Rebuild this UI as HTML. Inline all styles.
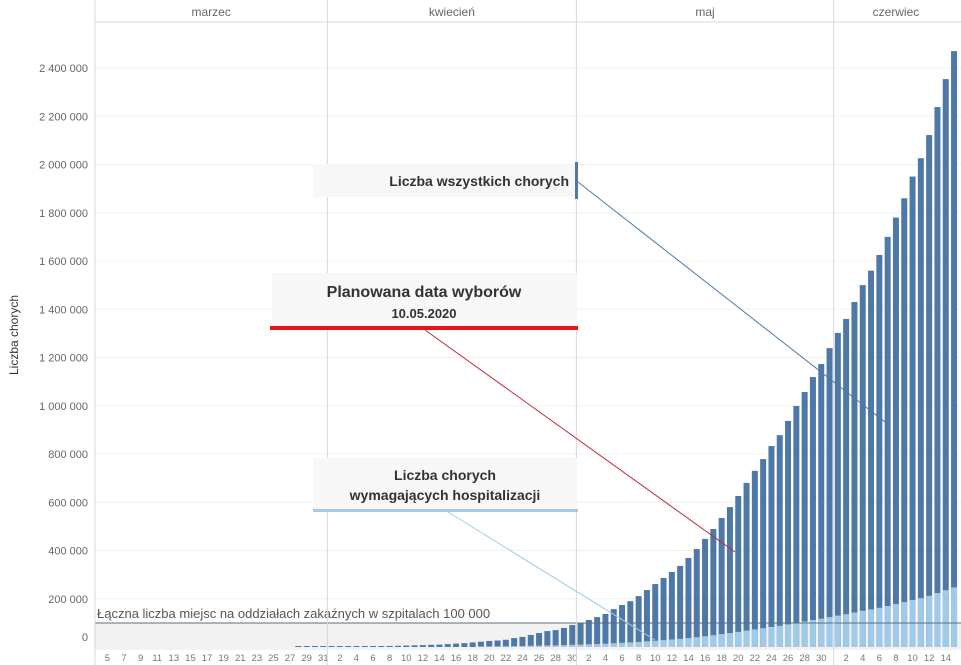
<!DOCTYPE html>
<html><head><meta charset="utf-8"><style>
html,body{margin:0;padding:0;background:#fff;}
svg{display:block;font-family:"Liberation Sans","DejaVu Sans",sans-serif;}
</style></head><body>
<svg id="chart" width="961" height="665" viewBox="0 0 961 665" xmlns="http://www.w3.org/2000/svg">
<g id="grid"></g>
<rect x="95" y="623" width="866" height="25" fill="#f2f2f2"/>
<g id="bars"></g>
<line x1="95" y1="623" x2="961" y2="623" stroke="#5a6f80" stroke-width="1"/>
<text x="97" y="618" font-size="13" fill="#555">Łączna liczba miejsc na oddziałach zakaźnych w szpitalach 100 000</text>
<g id="frame"></g>
<g id="annotations">
  <rect x="313" y="164" width="264" height="33" fill="#f7f7f7"/>
  <text x="569" y="186" font-size="14" font-weight="bold" fill="#333" text-anchor="end">Liczba wszystkich chorych</text>
  <rect x="575" y="162" width="3" height="37" fill="#4e79a7"/>
  <line x1="578" y1="182" x2="885" y2="422" stroke="#4e79a7" stroke-width="1"/>
  <rect x="272" y="273" width="305" height="53" fill="#f7f7f7"/>
  <text x="424" y="297" font-size="16" font-weight="bold" fill="#333" text-anchor="middle">Planowana data wyborów</text>
  <text x="424" y="318" font-size="13" font-weight="bold" fill="#333" text-anchor="middle">10.05.2020</text>
  <rect x="270" y="326" width="308" height="4" fill="#e8121b"/>
  <line x1="425" y1="330" x2="735" y2="552" stroke="#c0283a" stroke-width="1"/>
  <rect x="313" y="458" width="264" height="51" fill="#f7f7f7"/>
  <text x="445" y="480" font-size="14" font-weight="bold" fill="#333" text-anchor="middle">Liczba chorych</text>
  <text x="445" y="500" font-size="14" font-weight="bold" fill="#333" text-anchor="middle">wymagających hospitalizacji</text>
  <rect x="313" y="509" width="265" height="3" fill="#a0cbe8"/>
  <line x1="448" y1="512" x2="655" y2="640" stroke="#a0cbe8" stroke-width="1"/>
</g>
<text transform="translate(18,335) rotate(-90)" font-size="12" fill="#333" text-anchor="middle">Liczba chorych</text>
</svg>
<script>
const months = ["marzec","kwiecień","maj","czerwiec"];
const monthDays = [28,30,31,15];
const monthStartDay = [4,1,1,1];
const yTicks = [0,200000,400000,600000,800000,1000000,1200000,1400000,1600000,1800000,2000000,2200000,2400000];
const totalCases = [
0,0,0,0,0,0,0,0,0,0,0,0,0,0,0,0,0,0,0,0,0,0,0,0,1000,1200,1400,1600,
1800,2000,2200,2500,3000,3500,4000,4500,5000,6000,7000,8000,9000,10000,12000,14000,16000,19000,22000,25000,27000,30000,37000,42000,50000,58000,66000,70000,79000,91000,
99000,112000,124000,137000,157000,174000,190000,211000,236000,261000,286000,311000,336000,369000,406000,448000,489000,535000,580000,626000,680000,730000,779000,833000,878000,937000,999000,1057000,1119000,1173000,1239000,
1302000,1360000,1430000,1500000,1560000,1625000,1700000,1780000,1860000,1950000,2026000,2122000,2238000,2354000,2470000];
const hospitalized = [
0,0,0,0,0,0,0,0,0,0,0,0,0,0,0,0,0,0,0,0,0,0,0,0,100,120,140,160,
180,200,220,250,300,350,400,450,500,600,700,800,900,1000,1200,1400,1600,1900,2200,2500,2700,3000,3700,4200,5000,5800,6600,7000,7900,9100,
9900,11200,12400,13700,15700,17400,19000,21100,23600,26100,28600,31100,33600,36900,40600,44800,48900,53500,58000,62600,68000,73000,77900,83300,87800,93700,99900,105700,111900,117300,123900,
130200,136000,143000,150000,156000,162500,170000,178000,186000,195000,202600,212200,223800,235400,247000];

const NS="http://www.w3.org/2000/svg";
const X0=95, STEP=8.3, BASE=647, PXPER=48.25/200000;
function xScale(i){return X0+i*STEP;}
function yScale(v){return BASE-v*PXPER;}
function mk(tag,attrs,parent,text){const e=document.createElementNS(NS,tag);for(const k in attrs)e.setAttribute(k,attrs[k]);if(text!==undefined)e.textContent=text;parent.appendChild(e);return e;}
function fmt(v){return String(v).replace(/\B(?=(\d{3})+(?!\d))/g," ");}

const grid=document.getElementById('grid');
yTicks.forEach(v=>{
  if(v>0){
    const l=mk('line',{x1:95,x2:961,y1:yScale(v),y2:yScale(v),stroke:'#f0f0f0'},grid);
    
    
  }
  const t=mk('text',{x:88,y:(v===0?yScale(v)-6:yScale(v)+4),'font-size':11,fill:'#666','text-anchor':'end'},grid,fmt(v));
  
  
});

const bars=document.getElementById('bars');
const BW=6;
totalCases.forEach((v,i)=>{
  if(v<=0)return;
  const cx=xScale(i+0.5);
  const h=Math.max(1,BASE-yScale(v));
  const r=mk('rect',{x:cx-BW/2,y:BASE-h,width:BW,height:h,fill:'#4e79a7'},bars);
  
  
  const hv=hospitalized[i];
  const hh=BASE-yScale(hv);
  if(hh>0.5){
    const r2=mk('rect',{x:cx-BW/2,y:BASE-hh,width:BW,height:hh,fill:'#a0cbe8'},bars);
    
    
  }
});

const frame=document.getElementById('frame');
mk('line',{x1:95,x2:95,y1:0,y2:665,stroke:'#d8d8d8'},frame);
mk('line',{x1:95,x2:961,y1:22,y2:22,stroke:'#d8d8d8'},frame);
mk('line',{x1:95,x2:961,y1:649,y2:649,stroke:'#e6e6e6'},frame);
let idx=0;
months.forEach((m,mi)=>{
  const start=idx, end=idx+monthDays[mi];
  const t=mk('text',{x:(xScale(start)+Math.min(xScale(end),961))/2,y:16,'font-size':12,fill:'#666','text-anchor':'middle'},frame,m);
  
  
  if(mi>0){
    const s=mk('line',{x1:xScale(start),x2:xScale(start),y1:0,y2:665,stroke:'#d8d8d8'},frame);
    
    
  }
  for(let d=0;d<monthDays[mi];d++){
    const day=monthStartDay[mi]+d;
    const show = mi===0 ? (day%2===1) : (day%2===0);
    if(show){
      const lt=mk('text',{x:xScale(start+d+0.5),y:661,'font-size':9.5,fill:'#777','text-anchor':'middle'},frame,String(day));
      
      
    }
  }
  idx=end;
});
</script>
</body></html>
